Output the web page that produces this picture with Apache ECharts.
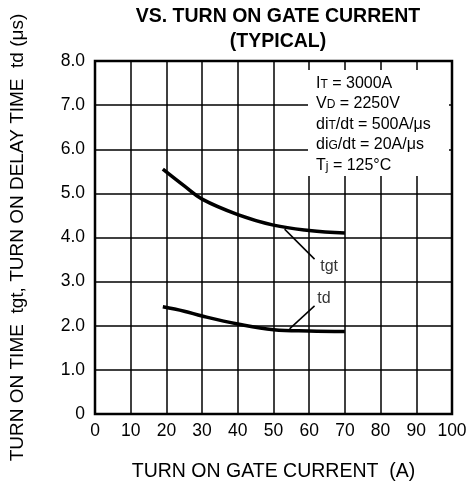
<!DOCTYPE html>
<html><head><meta charset="utf-8">
<script src="https://cdn.jsdelivr.net/npm/echarts@6/dist/echarts.min.js"></script>
<style>html,body{margin:0;padding:0;background:#fff}#c{width:470px;height:493px}</style>
</head><body><div id="c"></div>
<script>
const gateCurrent = [19, 25, 30, 40, 50, 60, 70];
const tgt = [5.55, 5.17, 4.87, 4.52, 4.28, 4.16, 4.10];
const td = [2.43, 2.33, 2.22, 2.04, 1.91, 1.88, 1.87];
const xTicks = [0,10,20,30,40,50,60,70,80,90,100];
const yTicks = ['0','1.0','2.0','3.0','4.0','5.0','6.0','7.0','8.0'];
const tgtLeader = [[53.1, 4.19], [61.5, 3.51]];
const tdLeader = [[54.5, 1.93], [61.5, 2.45]];
const tgtLabelPos = [62.8, 3.33];
const tdLabelPos = [62.0, 2.62];

const FONT = '"Liberation Sans", Arial, Helvetica, sans-serif';
const chart = echarts.init(document.getElementById('c'));
chart.setOption({
  animation: false,
  backgroundColor: '#fff',
  title: {
    text: 'VS. TURN ON GATE CURRENT\n(TYPICAL)',
    left: 273, textAlign: 'center', top: -1,
    textStyle: {fontFamily: FONT, fontWeight: 'bold', fontSize: 19.5, color: '#000', lineHeight: 25}
  },
  grid: {left: 95, top: 61, right: 18, bottom: 79, show: true, borderColor: '#000', borderWidth: 2.5, backgroundColor: 'transparent'},
  xAxis: {
    type: 'value', min: 0, max: 100, interval: 10,
    name: 'TURN ON GATE CURRENT  (A)', nameLocation: 'middle', nameGap: 48,
    nameTextStyle: {fontFamily: FONT, fontSize: 19.5, color: '#000'},
    axisLine: {show: false}, axisTick: {show: false},
    axisLabel: {fontFamily: FONT, fontSize: 17.5, color: '#000', margin: 8,
      formatter: v => String(xTicks[Math.round(v / 10)])},
    splitLine: {show: true, lineStyle: {color: '#000', width: 1.5}}
  },
  yAxis: {
    type: 'value', min: 0, max: 8, interval: 1,
    name: 'TURN ON TIME  tgt, TURN ON DELAY TIME  td (μs)', nameLocation: 'middle', nameGap: 68, nameRotate: 90,
    nameTextStyle: {fontFamily: FONT, fontSize: 19, color: '#000'},
    axisLine: {show: false}, axisTick: {show: false},
    axisLabel: {fontFamily: FONT, fontSize: 17.5, color: '#000', margin: 10,
      formatter: v => yTicks[Math.round(v)]},
    splitLine: {show: true, lineStyle: {color: '#000', width: 1.5}}
  },
  graphic: [{
    type: 'rect', shape: {x: 308, y: 70, width: 141, height: 106}, style: {fill: '#fff'}, z: 1
  }, {
    type: 'text', left: 316, top: 73, z: 2,
    style: {
      text: 'I{s|T} = 3000A\nV{s|D} = 2250V\ndi{s|T}/dt = 500A/μs\ndi{s|G}/dt = 20A/μs\nT{s|j} = 125°C',
      font: '16px ' + FONT, fill: '#000', lineHeight: 20.5,
      rich: {s: {fontSize: 12, fontFamily: FONT, fill: '#000', verticalAlign: 'middle', lineHeight: 20.5, padding: [2, 0, 0, 0]}}
    }
  }],
  series: [{
    type: 'line', data: gateCurrent.map((x, i) => [x, tgt[i]]), smooth: 0.4, symbol: 'none', z: 5,
    lineStyle: {color: '#000', width: 3.5},
    markLine: {silent: true, symbol: ['none', 'none'], label: {show: false},
      lineStyle: {color: '#000', width: 1.5, type: 'solid'},
      data: [[{coord: tgtLeader[0]}, {coord: tgtLeader[1]}]]}
  }, {
    type: 'line', data: gateCurrent.map((x, i) => [x, td[i]]), smooth: 0.4, symbol: 'none', z: 5,
    lineStyle: {color: '#000', width: 3.5},
    markLine: {silent: true, symbol: ['none', 'none'], label: {show: false},
      lineStyle: {color: '#000', width: 1.5, type: 'solid'},
      data: [[{coord: tdLeader[0]}, {coord: tdLeader[1]}]]}
  }, {
    type: 'scatter', symbolSize: 0, z: 6,
    data: [{value: tgtLabelPos, name: 'tgt'}, {value: tdLabelPos, name: 'td'}],
    label: {show: true, position: 'right', distance: 0, formatter: p => p.name,
      fontFamily: FONT, fontSize: 16, color: '#000', backgroundColor: '#fff', padding: [0, 1]}
  }]
});
</script></body></html>
